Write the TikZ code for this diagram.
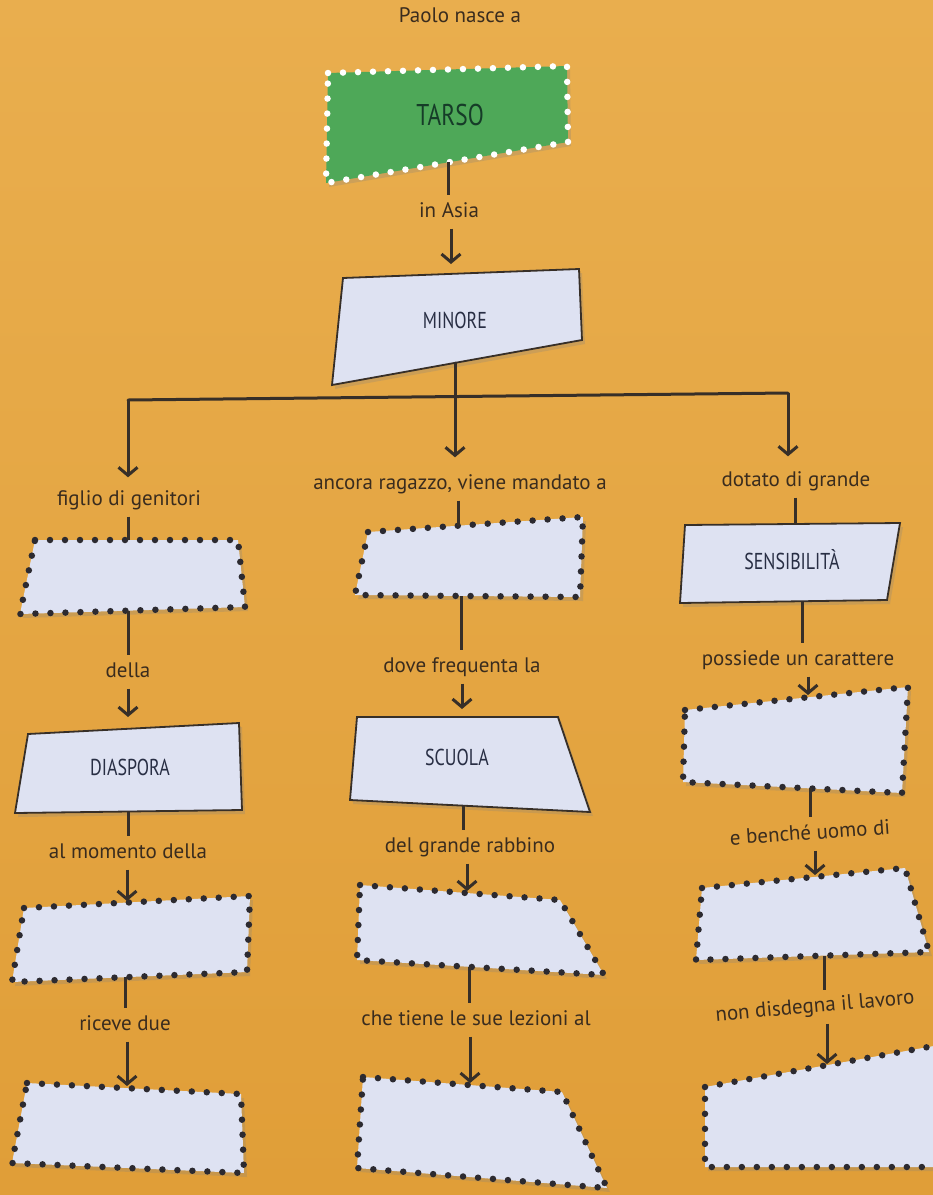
\documentclass[tikz,border=0pt]{standalone}
\usepackage{fontspec}
\setmainfont{PT Sans}
\newfontfamily\capsfont[FakeStretch=0.78]{PT Sans}
\usetikzlibrary{arrows.meta,shadows}
\definecolor{paperTop}{RGB}{233,174,78}
\definecolor{paperBot}{RGB}{224,158,56}
\definecolor{cardfill}{RGB}{222,226,242}
\definecolor{greenfill}{RGB}{78,168,88}
\definecolor{ink}{RGB}{55,47,40}
\definecolor{dotcol}{RGB}{44,42,48}
\definecolor{lbltxt}{RGB}{58,44,30}
\definecolor{captxt}{RGB}{40,46,68}
\definecolor{tarsotxt}{RGB}{22,60,40}
\tikzset{
  card/.style={fill=cardfill,drop shadow={shadow xshift=3pt,shadow yshift=-4pt,opacity=0.25}},
  dotcard/.style={card,draw=dotcol,line width=6.5pt,line cap=round,dash pattern=on 0pt off 15pt},
  solidcard/.style={card,draw=ink,line width=1.8pt,line join=miter},
  greencard/.style={dotcard,fill=greenfill,draw=white},
  lbl/.style={text=lbltxt,font=\fontsize{21}{23}\selectfont,text height=15pt,text depth=4pt,inner xsep=2pt,inner ysep=7pt},
  capt/.style={text=captxt,font=\capsfont\fontsize{23}{24}\selectfont},
  link/.style={draw=ink,line width=3pt},
  arr/.style={link,-{Straight Barb[length=8pt,width=19pt]}}
}
\begin{document}
\begin{tikzpicture}[x=1pt,y=-1pt]
\useasboundingbox (0,0) rectangle (933,1195);
\clip (0,0) rectangle (933,1195);
\shade[top color=paperTop,bottom color=paperBot] (0,0) rectangle (933,1195);

% top of the map
\node[lbl] (paolo) at (460,17) {Paolo nasce a};
\draw[greencard] (328,73) -- (567,66) -- (568,142) -- (326,183) -- cycle;
\node[capt,text=tarsotxt,font=\capsfont\fontsize{30}{31}\selectfont] (tarso) at (450,115) {TARSO};
\coordinate (tarsoB) at (448,162);
\node[lbl] (asia) at (449,212) {in Asia};
\draw[solidcard] (343,278) -- (579,269) -- (582,340) -- (332,385) -- cycle;
\node[capt] (minore) at (455,320) {MINORE};
\coordinate (minoreT) at (451,274);
\coordinate (minoreB) at (455,363);
\draw[link] (tarsoB) -- (tarsoB|-asia.north);
\draw[arr,shorten >=10pt] (minoreT|-asia.south) -- (minoreT);

% branching
\coordinate (jL) at (128,400);
\coordinate (jM) at (455,397);
\coordinate (jR) at (788,393);
\node[lbl] (figlio) at (129,500) {figlio di genitori};
\node[lbl] (ancora) at (460,484) {ancora ragazzo, viene mandato a};
\node[lbl] (dotato) at (796,481) {dotato di grande};
\draw[link,line cap=round] (minoreB) -- (jM);
\draw[link,line cap=round] (jL) -- (jR);
\draw[arr,shorten >=6pt] (jL) -- (jL|-figlio.north);
\draw[arr,shorten >=10pt] (jM) -- (jM|-ancora.north);
\draw[arr,shorten >=8pt] (jR) -- (jR|-dotato.north);

% left column
\draw[dotcard] (35,540) -- (238,540) -- (245,607) -- (20,614) -- cycle;
\coordinate (L1T) at (128,540);
\coordinate (L1B) at (128,611);
\draw[link] (L1T|-figlio.south) -- (L1T);
\node[lbl] (della) at (128,672) {della};
\draw[link] (L1B) -- (L1B|-della.north);
\draw[solidcard] (28,734) -- (239,723) -- (242,810) -- (15,813) -- cycle;
\node[capt] (diaspora) at (130,767) {DIASPORA};
\coordinate (diaT) at (128,729);
\coordinate (diaB) at (128,812);
\draw[arr,shorten >=12pt] (diaT|-della.south) -- (diaT);
\node[lbl] (momento) at (128,853) {al momento della};
\draw[link] (diaB) -- (diaB|-momento.north);
\draw[dotcard] (24,908) -- (250,896) -- (247,972) -- (12,982) -- cycle;
\coordinate (L3T) at (127,903);
\coordinate (L3B) at (125,977);
\draw[arr,shorten >=2pt] (L3T|-momento.south) -- (L3T);
\node[lbl] (riceve) at (125,1025) {riceve due};
\draw[link] (L3B) -- (L3B|-riceve.north);
\draw[dotcard] (27,1083) -- (241,1094) -- (244,1173) -- (12,1163) -- cycle;
\coordinate (L4T) at (127,1088);
\draw[arr,shorten >=2pt] (L4T|-riceve.south) -- (L4T);

% middle column
\draw[dotcard] (368,532) -- (583,517) -- (580,597) -- (355,595) -- cycle;
\coordinate (M1T) at (458,526);
\coordinate (M1B) at (461,596);
\draw[link] (M1T|-ancora.south) -- (M1T);
\node[lbl] (dove) at (462,667) {dove frequenta la};
\draw[link] (M1B) -- (M1B|-dove.north);
\draw[solidcard] (357,717) -- (558,717) -- (590,812) -- (350,800) -- cycle;
\node[capt] (scuola) at (457,757) {SCUOLA};
\coordinate (scuolaT) at (462,717);
\coordinate (scuolaB) at (463,806);
\draw[arr,shorten >=8pt] (scuolaT|-dove.south) -- (scuolaT);
\node[lbl] (rabbino) at (470,847) {del grande rabbino};
\draw[link] (scuolaB) -- (scuolaB|-rabbino.north);
\draw[dotcard] (360,885) -- (560,900) -- (604,975) -- (357,960) -- cycle;
\coordinate (M3T) at (467,893);
\coordinate (M3B) at (469,967);
\draw[arr,shorten >=2pt] (M3T|-rabbino.south) -- (M3T);
\node[lbl] (lezioni) at (476,1020) {che tiene le sue lezioni al};
\draw[link] (M3B) -- (M3B|-lezioni.north);
\draw[dotcard] (363,1077) -- (562,1092) -- (607,1188) -- (357,1168) -- cycle;
\coordinate (M4T) at (470,1085);
\draw[arr,shorten >=2pt] (M4T|-lezioni.south) -- (M4T);

% right column
\draw[solidcard] (685,525) -- (900,523) -- (887,600) -- (680,603) -- cycle;
\node[capt] (sensib) at (792,560) {SENSIBILITÀ};
\coordinate (sensT) at (795,524);
\coordinate (sensB) at (802,601);
\draw[link] (sensT|-dotato.south) -- (sensT);
\node[lbl] (possiede) at (798,660) {possiede un carattere};
\draw[link] (sensB) -- (sensB|-possiede.north);
\draw[dotcard] (685,710) -- (908,687) -- (902,793) -- (683,782) -- cycle;
\coordinate (R1T) at (808,697);
\coordinate (R1B) at (810,788);
\draw[arr,shorten >=2pt] (R1T|-possiede.south) -- (R1T);
\node[lbl,rotate=4] (uomo) at (810,834) {e benché uomo di};
\draw[link] (R1B) -- (R1B|-uomo.north);
\draw[dotcard] (702,888) -- (905,868) -- (929,952) -- (696,960) -- cycle;
\coordinate (R3T) at (815,877);
\coordinate (R3B) at (824,956);
\draw[arr,shorten >=2pt] (R3T|-uomo.south) -- (R3T);
\node[lbl,rotate=5] (lavoro) at (815,1007) {non disdegna il lavoro};
\draw[link] (R3B) -- (R3B|-lavoro.north);
\draw[dotcard] (705,1087) -- (945,1044) -- (945,1167) -- (705,1167) -- cycle;
\coordinate (R4T) at (827,1066);
\draw[arr,shorten >=2pt] (R4T|-lavoro.south) -- (R4T);
\end{tikzpicture}
\end{document}
